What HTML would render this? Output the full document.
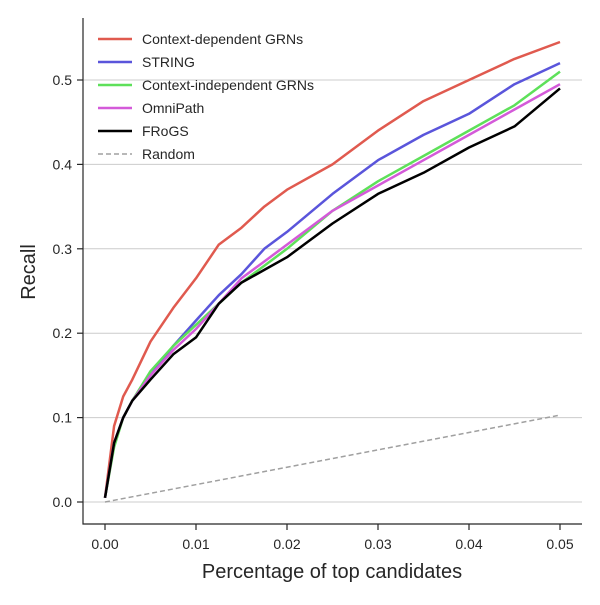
<!DOCTYPE html>
<html><head><meta charset="utf-8"><style>
body{margin:0;background:#fff;font-family:"Liberation Sans",sans-serif}
svg text{font-family:"Liberation Sans","DejaVu Sans",sans-serif;fill:#262626}
</style></head><body>
<svg id="chart" width="600" height="600"></svg>
<script>
const xs=[0,0.001,0.002,0.003,0.005,0.0075,0.01,0.0125,0.015,0.0175,0.02,0.025,0.03,0.035,0.04,0.045,0.05];
const ctxDep=[0.005,0.09,0.125,0.145,0.19,0.23,0.265,0.305,0.325,0.35,0.37,0.40,0.44,0.475,0.50,0.525,0.545];
const stringV=[0.005,0.07,0.10,0.12,0.15,0.185,0.215,0.245,0.27,0.30,0.32,0.365,0.405,0.435,0.46,0.495,0.52];
const ctxInd=[0.005,0.065,0.10,0.12,0.155,0.185,0.21,0.235,0.26,0.28,0.30,0.345,0.38,0.41,0.44,0.47,0.51];
const omni=[0.005,0.07,0.10,0.12,0.15,0.18,0.205,0.235,0.265,0.285,0.305,0.345,0.375,0.405,0.435,0.465,0.495];
const frogs=[0.005,0.07,0.10,0.12,0.145,0.175,0.195,0.235,0.26,0.275,0.29,0.33,0.365,0.39,0.42,0.445,0.49];
const randomX=[0,0.05];
const randomV=[0,0.103];
const xTicks=[0,0.01,0.02,0.03,0.04,0.05];
const xTickLabels=["0.00","0.01","0.02","0.03","0.04","0.05"];
const yTicks=[0,0.1,0.2,0.3,0.4,0.5];
const yTickLabels=["0.0","0.1","0.2","0.3","0.4","0.5"];
const seriesNames=["Context-dependent GRNs","STRING","Context-independent GRNs","OmniPath","FRoGS","Random"];
const colors=["#e05a4f","#5a55db","#5ee05a","#d45ad9","#000000","#a0a0a0"];

const NS="http://www.w3.org/2000/svg";
const svg=document.getElementById('chart');
const X=v=>105+v*9100;
const Y=v=>502-v*844;
function mk(t,a,parent){const e=document.createElementNS(NS,t);for(const k in a)e.setAttribute(k,a[k]);(parent||svg).appendChild(e);return e;}

yTicks.forEach((t,i)=>{
  const g=mk('line',{x1:83,x2:582,y1:Y(t),y2:Y(t),stroke:'#cccccc','stroke-width':1});
  
  
  const tk=mk('line',{x1:77,x2:83,y1:Y(t),y2:Y(t),stroke:'#262626','stroke-width':1.2});
  
  
  const tx=mk('text',{x:72,y:Y(t)+5,'text-anchor':'end','font-size':14});
  tx.textContent=yTickLabels[i];
  
  
});
xTicks.forEach((t,i)=>{
  const tk=mk('line',{x1:X(t),x2:X(t),y1:524,y2:530,stroke:'#262626','stroke-width':1.2});
  
  
  const tx=mk('text',{x:X(t),y:549,'text-anchor':'middle','font-size':14});
  tx.textContent=xTickLabels[i];
  
  
});
const ax=mk('path',{d:'M83,18V524H582',fill:'none',stroke:'#262626','stroke-width':1.2});



function line(xv,yv,c,dash,name){
  const d=xv.map((x,i)=>(i?'L':'M')+X(x).toFixed(1)+','+Y(yv[i]).toFixed(1)).join('');
  const p=mk('path',{d,fill:'none',stroke:c,'stroke-width':dash?1.5:2.5,'stroke-dasharray':dash?'5,3':'none','stroke-linejoin':'round'});
  
  
}
line(randomX,randomV,colors[5],true,'line-random');
line(xs,ctxDep,colors[0],false,'line-context-dependent');
line(xs,stringV,colors[1],false,'line-string');
line(xs,ctxInd,colors[2],false,'line-context-independent');
line(xs,omni,colors[3],false,'line-omnipath');
line(xs,frogs,colors[4],false,'line-frogs');

seriesNames.forEach((n,i)=>{
  const y=39+i*23;
  const l=mk('line',{x1:98,x2:132,y1:y,y2:y,stroke:colors[i],'stroke-width':i==5?1.5:2.5,'stroke-dasharray':i==5?'5,3':'none'});
  
  
  const t=mk('text',{x:142,y:y+5,'font-size':14});
  t.textContent=n;
  
  
});
const xt=mk('text',{x:332,y:578,'text-anchor':'middle','font-size':20});
xt.textContent='Percentage of top candidates';


const yt=mk('text',{x:0,y:0,'text-anchor':'middle','font-size':20,transform:'translate(35,272) rotate(-90)'});
yt.textContent='Recall';


</script>
</body></html>
